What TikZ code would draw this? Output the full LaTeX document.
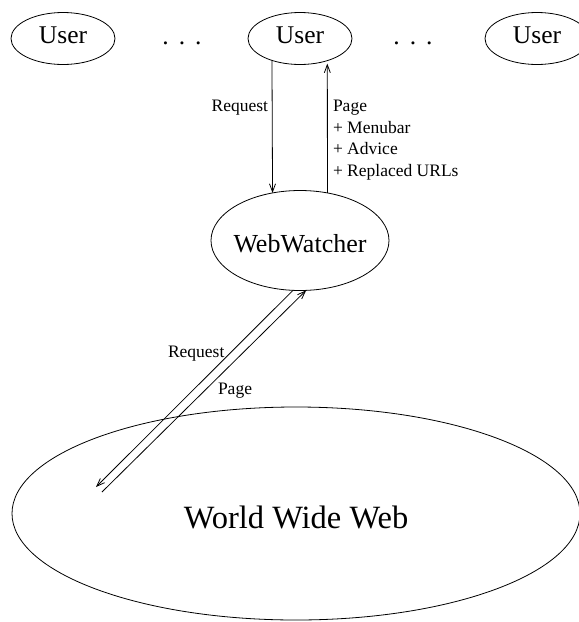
\documentclass[tikz,border=0pt]{standalone}
\usepackage{fontspec}
\setmainfont{Liberation Serif}
\usetikzlibrary{arrows.meta,shapes.geometric}
\begin{document}
\begin{tikzpicture}[x=1pt,y=-1pt,
  every node/.style={inner sep=0pt, outer sep=0pt},
  ell/.style={draw, ellipse, line width=0.8pt},
  usr/.style={ell, minimum width=104pt, minimum height=52pt,
    font=\fontsize{25.5}{30}\selectfont, text height=9pt, text depth=0pt},
  lbl/.style={font=\fontsize{17.5}{21.5}\selectfont},
  dotsty/.style={font=\fontsize{25.5}{30}\selectfont, anchor=base},
  arr/.style={line width=0.8pt, -{Straight Barb[length=8pt,width=6pt]}}]
\useasboundingbox (0,0) rectangle (579,622);
\node[usr] (u1) at (63,38.5) {User};
\node[usr] (u2) at (300,38.5) {User};
\node[usr] (u3) at (537,38.5) {User};
\node[dotsty] (d1) at (182,44) {.\hspace{10pt}.\hspace{10pt}.};
\node[dotsty] (d2) at (413,44) {.\hspace{10pt}.\hspace{10pt}.};
\node[ell, minimum width=178pt, minimum height=100pt,
  font=\fontsize{26}{30}\selectfont, text height=24pt, text depth=0pt]
  (ww) at (300,240.5) {\makebox[0pt]{WebWatcher}};
\node[ell, minimum width=568pt, minimum height=213pt,
  font=\fontsize{32.5}{38}\selectfont, text height=29pt, text depth=0pt]
  (web) at (296,513.5) {\makebox[0pt]{World Wide Web}};
\coordinate (wreq) at (96,487);
\coordinate (wpage) at (102,492);
\draw[arr] (u2.-142) -- (ww.120.5);
\draw[arr, shorten >=3pt] (ww.60.5) -- (u2.-39.4);
\draw[arr] (ww.-98) -- (wreq);
\draw[arr] (wpage) -- (ww.-83);
\node[lbl, anchor=base east] (lreq) at (268,111) {Request};
\node[lbl, anchor=north west, align=left] (lpage) at (333,100.5)
  {Page\\+ Menubar\\+ Advice\\+ Replaced URLs};
\node[lbl, anchor=base west] (lreq2) at (168,357) {Request};
\node[lbl, anchor=base west] (lpage2) at (218,394) {Page};
\end{tikzpicture}
\end{document}
